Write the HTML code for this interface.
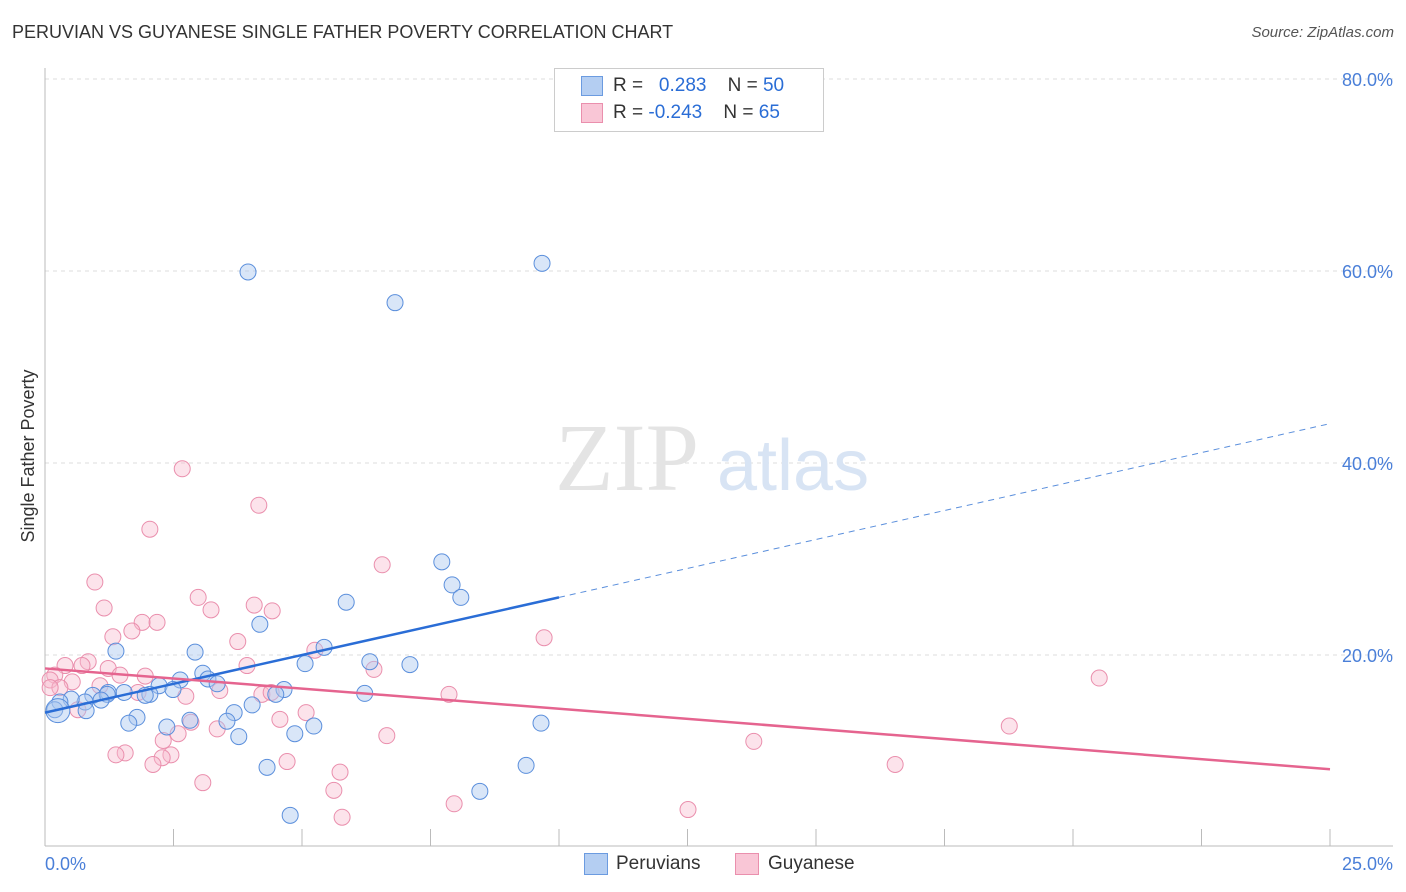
<!DOCTYPE html>
<html><head><meta charset="utf-8"><style>
body{margin:0;background:#fff;font-family:"Liberation Sans",sans-serif;}
#wrap{position:relative;width:1406px;height:892px;overflow:hidden;}
.t{position:absolute;white-space:nowrap;}
</style></head><body>
<div id="wrap">
<div class="t" style="left:12px;top:22px;font-size:18px;color:#333;">PERUVIAN VS GUYANESE SINGLE FATHER POVERTY CORRELATION CHART</div>
<div class="t" style="right:12px;top:24px;font-size:15px;color:#555;font-style:italic;">Source: ZipAtlas.com</div>
<svg id="svg" width="1406" height="892" style="position:absolute;left:0;top:0"></svg>
</div>
<script>
const yTicks=[20,40,60,80];
const yTickLabels=["20.0%","40.0%","60.0%","80.0%"];
const xTickLabels=["0.0%","25.0%"];
const blueX=[3.95,9.67,6.81,1.38,4.18,5.86,7.92,8.09,7.72,2.92,5.43,5.06,6.32,7.10,2.63,3.07,3.17,3.35,2.22,2.49,2.04,1.95,1.54,1.23,0.93,1.21,1.09,0.78,0.51,0.29,0.19,0.80,1.79,1.63,2.37,2.82,3.68,4.03,3.54,3.77,4.65,4.49,5.23,4.86,6.22,9.65,4.32,9.36,8.46,4.77];
const blueY=[59.9,60.8,56.7,20.4,23.2,25.5,27.3,26.0,29.7,20.3,20.8,19.1,19.3,19.0,17.4,18.1,17.5,17.0,16.8,16.4,15.9,15.8,16.1,16.1,15.8,15.9,15.3,15.1,15.4,15.1,14.3,14.2,13.5,12.9,12.5,13.2,14.0,14.8,13.1,11.5,16.4,15.9,12.6,11.8,16.0,12.9,8.3,8.5,5.8,3.3];
const pinkX=[2.67,4.16,2.04,6.56,0.97,2.98,1.15,4.07,3.23,4.42,1.89,2.18,1.69,1.32,9.71,3.75,5.25,0.39,0.84,0.72,1.23,1.46,1.95,3.93,6.40,1.07,0.19,0.10,0.53,1.81,2.74,3.40,4.22,4.40,7.86,20.51,0.64,5.08,2.84,4.57,3.35,2.59,2.30,6.65,18.76,13.79,1.56,1.38,2.45,2.28,2.10,4.71,5.74,16.54,3.07,5.62,7.96,12.51,5.78,0.29,0.10];
const pinkY=[39.4,35.6,33.1,29.4,27.6,26.0,24.9,25.2,24.7,24.6,23.4,23.4,22.5,21.9,21.8,21.4,20.5,18.9,19.3,18.9,18.6,17.9,17.8,18.9,18.5,16.8,17.9,17.4,17.2,16.1,15.7,16.3,15.9,16.1,15.9,17.6,14.3,14.0,13.0,13.3,12.3,11.8,11.1,11.6,12.6,11.0,9.8,9.6,9.6,9.3,8.6,8.9,7.8,8.6,6.7,5.9,4.5,3.9,3.1,16.6,16.6];
const blueTrend=[0,14.0,10,26.0,25,44.1];
const pinkTrend=[0,18.6,25,8.1];
const X0=45,X1=1330,Y0=847,YPX=9.6;
const sx=v=>X0+(X1-X0)*v/25, sy=v=>Y0-v*YPX;
const svg=document.getElementById('svg');const NS='http://www.w3.org/2000/svg';
function mk(t,a){const e=document.createElementNS(NS,t);for(const k in a)e.setAttribute(k,a[k]);svg.appendChild(e);return e;}
yTicks.forEach((v,i)=>{
 const g=mk('line',{x1:45,x2:1393,y1:sy(v),y2:sy(v),stroke:'#ddd','stroke-dasharray':'4,4'});
 
 
 const t=mk('text',{x:1393,y:sy(v)+7,'text-anchor':'end','font-size':18,fill:'#4a7fd8','font-family':'Liberation Sans'});t.textContent=yTickLabels[i];
 
 
});
let ax=mk('line',{x1:45,x2:45,y1:68,y2:846,stroke:'#bbb'});


ax=mk('line',{x1:45,x2:1393,y1:846,y2:846,stroke:'#bbb'});


for(let i=1;i<=10;i++){const l=mk('line',{x1:sx(i*2.5),x2:sx(i*2.5),y1:829,y2:846,stroke:'#bbb'});
 
 }
[[0,'start'],[25,'end']].forEach(([v,a],i)=>{const t=mk('text',{x:i?1393:45,y:870,'text-anchor':a,'font-size':18,fill:'#4a7fd8','font-family':'Liberation Sans'});t.textContent=xTickLabels[i];
 
 });
let yl=mk('text',{x:34,y:456,transform:'rotate(-90 34 456)','text-anchor':'middle','font-size':18,fill:'#333','font-family':'Liberation Sans'});yl.textContent='Single Father Poverty';


let wm=mk('text',{x:555,y:490,'font-size':96,fill:'#e4e4e4','font-family':'Liberation Serif'});wm.textContent='ZIP';


wm=mk('text',{x:717,y:490,'font-size':72,fill:'#d8e4f4','font-family':'Liberation Sans'});wm.textContent='atlas';


function pts(xs,ys,fill,stroke,name){xs.forEach((x,i)=>{const c=mk('circle',{cx:sx(x),cy:sy(ys[i]),r:8,fill:fill,stroke:stroke,'stroke-width':1});
 
 });}
pts(pinkX,pinkY,'rgba(248,185,205,0.4)','#ea8fad','guyanese-point');
pts(blueX,blueY,'rgba(170,200,240,0.45)','#5b8fdc','peruvian-point');
let big=mk('circle',{cx:sx(0.25),cy:sy(14.2),r:12,fill:'rgba(170,200,240,0.45)',stroke:'#5b8fdc'});


let tl=mk('line',{x1:sx(blueTrend[0]),y1:sy(blueTrend[1]),x2:sx(blueTrend[2]),y2:sy(blueTrend[3]),stroke:'#2a6dd6','stroke-width':2.5});


tl=mk('line',{x1:sx(blueTrend[2]),y1:sy(blueTrend[3]),x2:sx(blueTrend[4]),y2:sy(blueTrend[5]),stroke:'#5b8fdc','stroke-width':1,'stroke-dasharray':'6,5'});


tl=mk('line',{x1:sx(pinkTrend[0]),y1:sy(pinkTrend[1]),x2:sx(pinkTrend[2]),y2:sy(pinkTrend[3]),stroke:'#e5648f','stroke-width':2.5});


</script>
<div style="position:absolute;left:554px;top:68px;width:268px;height:62px;border:1px solid #ccc;background:#fff;font-size:19px;">
 <div style="position:absolute;left:26px;top:7px;width:20px;height:18px;background:#b4cef2;border:1px solid #6b9be0"></div>
 <div class="t" style="left:58px;top:6px;color:#333">R = &nbsp;<span style="color:#2a6dd6">&nbsp;0.283</span>&nbsp;&nbsp;&nbsp; N = <span style="color:#2a6dd6">50</span></div>
 <div style="position:absolute;left:26px;top:34px;width:20px;height:18px;background:#f9c6d6;border:1px solid #ea8fad"></div>
 <div class="t" style="left:58px;top:33px;color:#333">R = <span style="color:#2a6dd6">-0.243</span>&nbsp;&nbsp;&nbsp; N = <span style="color:#2a6dd6">65</span></div>
</div>
<div style="position:absolute;left:584px;top:853px;width:22px;height:20px;background:#b4cef2;border:1px solid #6b9be0"></div>
<div class="t" style="left:616px;top:853px;font-size:19px;color:#333">Peruvians</div>
<div style="position:absolute;left:735px;top:853px;width:22px;height:20px;background:#f9c6d6;border:1px solid #ea8fad"></div>
<div class="t" style="left:768px;top:853px;font-size:19px;color:#333">Guyanese</div>
</body></html>
